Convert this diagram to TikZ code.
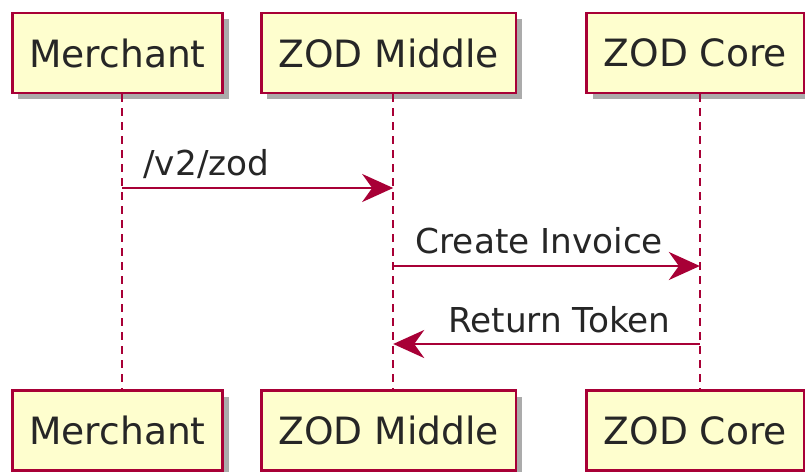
\documentclass[tikz,border=0pt]{standalone}
\usepackage{fontspec}
\setmainfont{DejaVu Sans}
\usepackage{xcolor}
\usepackage{tikz}
\usetikzlibrary{arrows.meta,positioning,shadows}

\definecolor{umlred}{HTML}{A80036}
\definecolor{umlfill}{HTML}{FEFECE}

\begin{document}
\begin{tikzpicture}[
    x=1pt, y=-1pt,
    node distance=36pt,
    participant/.style={rectangle, draw=umlred, fill=umlfill, line width=2.8pt, inner xsep=17pt, minimum height=80pt,
        font=\fontsize{37.6}{44}\selectfont, text=black!85,
        drop shadow={shadow xshift=6pt, shadow yshift=-6pt, fill=black!55, opacity=0.6}},
    lifeline/.style={draw=umlred, line width=2.2pt, dash pattern=on 8pt off 6pt},
    msg/.style={draw=umlred, line width=2.8pt, -{Stealth[length=31pt, width=28pt, inset=10pt]}},
    msglabel/.style={font=\fontsize{34.3}{40}\selectfont, text=black!85, inner sep=0pt}
]

\useasboundingbox (0,0) rectangle (805,471);

% participants, top row
\node[participant] (merchant) at (117.5,53) {Merchant};
\node[participant, right=of merchant] (middle) {ZOD Middle};
\node[participant, right=68pt of middle] (core) {ZOD Core};

% participants, bottom row
\node[participant, below=295pt of merchant] (merchantB) {Merchant};
\node[participant, below=295pt of middle] (middleB) {ZOD Middle};
\node[participant, below=295pt of core] (coreB) {ZOD Core};

% lifelines
\draw[lifeline] ([xshift=4.5pt]merchant.south) -- ([xshift=4.5pt]merchantB.north);
\draw[lifeline] ([xshift=4.5pt]middle.south) -- ([xshift=4.5pt]middleB.north);
\draw[lifeline] ([xshift=4.5pt]core.south) -- ([xshift=4.5pt]coreB.north);

% message points on the lifelines
\coordinate (m1) at ([xshift=4.5pt]merchant.south |- 0,188);
\coordinate (z1) at ([xshift=4.5pt]middle.south |- 0,188);
\coordinate (z2) at ([xshift=4.5pt]middle.south |- 0,266);
\coordinate (c2) at ([xshift=4.5pt]core.south |- 0,266);
\coordinate (c3) at ([xshift=4.5pt]core.south |- 0,344);
\coordinate (z3) at ([xshift=4.5pt]middle.south |- 0,344);

% messages
\draw[msg] (m1) -- (z1) node[msglabel, at start, anchor=base west, xshift=20pt, yshift=13pt] (lbl1) {/v2/zod};
\draw[msg] (z2) -- (c2) node[msglabel, at start, anchor=base west, xshift=21pt, yshift=13pt] (lbl2) {Create Invoice};
\draw[msg] (c3) -- (z3) node[msglabel, at start, anchor=base east, xshift=-28pt, yshift=12pt] (lbl3) {Return Token};

\end{tikzpicture}
\end{document}
